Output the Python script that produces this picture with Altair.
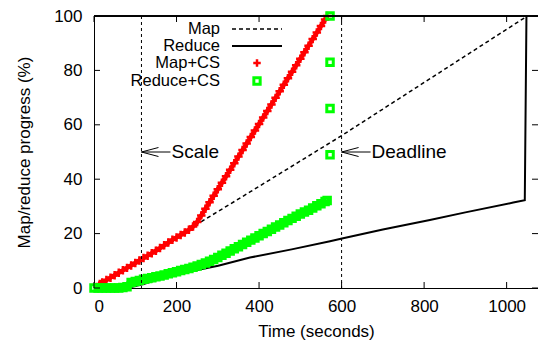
import altair as alt
import pandas as pd

FONT = "Liberation Sans"

# ---------------- data ----------------
map_t = [0, 14, 115, 192, 232, 378, 600, 1050]
map_p = [0, 1.2, 10.0, 17.3, 21.8, 35.3, 56.0, 100]

reduce_t = [0, 80, 120, 150, 200, 250, 301, 378, 479, 572, 601, 700, 814, 900, 1016, 1044, 1048]
reduce_p = [0, 0, 1.5, 2.8, 4.8, 6.6, 8.2, 11.2, 14.2, 17.2, 18.2, 21.5, 25.0, 27.8, 31.4, 32.3, 100]

mapcs_t = [14, 20, 30, 40, 50, 60, 70, 80, 90, 100, 110, 120, 130, 140, 150, 160, 170, 180,
           190, 200, 210, 220, 230, 240, 250, 260, 270, 280, 290, 300, 310, 320, 330, 340,
           350, 360, 370, 380, 390, 400, 410, 420, 430, 440, 450, 460, 470, 480, 490, 500,
           510, 520, 530, 540, 550, 560, 565]
mapcs_p = [1.5, 2.0, 2.9, 3.8, 4.7, 5.6, 6.5, 7.4, 8.3, 9.2, 10.1, 11.0, 11.9, 12.8, 13.7,
           14.7, 15.7, 16.7, 17.7, 18.6, 19.5, 20.4, 21.4, 22.6, 24.3, 26.7, 29.1, 31.5,
           33.9, 36.3, 38.7, 41.1, 43.5, 45.9, 48.3, 50.7, 53.1, 55.5, 57.9, 60.3, 62.7,
           65.1, 67.5, 69.9, 72.3, 74.7, 77.1, 79.5, 81.9, 84.3, 86.7, 89.1, 91.5, 93.9,
           96.3, 98.7, 100]

redcs_t = [0, 10, 20, 30, 40, 50, 60, 70, 80, 90, 100, 110, 120, 130, 140, 150, 160, 170,
           180, 190, 200, 210, 220, 230, 240, 250, 260, 270, 280, 290, 300, 310, 320, 330,
           340, 350, 360, 370, 380, 390, 400, 410, 420, 430, 440, 450, 460, 470, 480, 490,
           500, 510, 520, 530, 540, 550, 560, 565, 572, 572, 572, 572]
redcs_p = [0, 0, 0, 0, 0, 0, 0, 0.2, 0.5, 2.0, 2.4, 2.8, 3.2, 3.5, 3.8, 4.1, 4.4, 4.8,
           5.2, 5.6, 6.0, 6.4, 6.8, 7.2, 7.6, 8.1, 8.6, 9.2, 9.8, 10.5, 11.2, 12.0, 12.8,
           13.6, 14.4, 15.2, 16.0, 16.8, 17.6, 18.4, 19.2, 20.0, 20.8, 21.6, 22.4, 23.2,
           24.0, 24.8, 25.6, 26.4, 27.2, 27.9, 28.6, 29.4, 30.2, 31.0, 31.8, 32.2, 49, 66,
           83, 100]

event_t = [115, 600]
event_labels = ["Scale", "Deadline"]
event_p = [50, 50]

x_ticks = [0, 200, 400, 600, 800, 1000]
y_ticks = [0, 20, 40, 60, 80, 100]
legend_labels = ["Map", "Reduce", "Map+CS", "Reduce+CS"]

# ---------------- chart ----------------
W, H = 444, 272
xs = alt.Scale(domain=[0, 1076], nice=False, zero=False, padding=0)
ys = alt.Scale(domain=[0, 100], nice=False, padding=0)

map_df = pd.DataFrame({"t": map_t, "p": map_p})
red_df = pd.DataFrame({"t": reduce_t, "p": reduce_p})
mapcs_df = pd.DataFrame({"t": mapcs_t, "p": mapcs_p})
redcs_df = pd.DataFrame({"t": redcs_t, "p": redcs_p})
ev_df = pd.DataFrame({"t": event_t, "p": event_p, "label": event_labels})
xt_df = pd.DataFrame({"t": x_ticks})
yt_df = pd.DataFrame({"p": y_ticks})

x_axis = alt.Axis(values=x_ticks, format="d", ticks=False, grid=False, domain=True,
                  domainColor="black", domainWidth=1, labelFont=FONT, labelFontSize=17,
                  labelColor="black", labelPadding=10, title="Time (seconds)", titleFont=FONT,
                  titleFontSize=17, titleFontWeight="normal", titleColor="black",
                  titleBaseline="alphabetic", titleY=48)
y_axis = alt.Axis(values=y_ticks, format="d", ticks=False, grid=False, domain=True,
                  domainColor="black", domainWidth=1, labelFont=FONT, labelFontSize=17,
                  labelColor="black", labelPadding=12, title="Map/reduce progress (%)",
                  titleFont=FONT, titleFontSize=17, titleFontWeight="normal",
                  titleColor="black", titlePadding=20)

X = alt.X("t:Q", scale=xs, axis=x_axis)
Y = alt.Y("p:Q", scale=ys, axis=y_axis)

map_line = alt.Chart(map_df).mark_line(color="black", strokeWidth=1.5, strokeDash=[4, 3]).encode(x=X, y=Y)
reduce_line = alt.Chart(red_df).mark_line(color="black", strokeWidth=2).encode(x=X, y=Y)

PLUS = "M-1,0L1,0M0,-1L0,1"
mapcs_band = alt.Chart(mapcs_df).mark_line(color="#ff0000", strokeWidth=4.5).encode(x=X, y=Y)
mapcs_pts = alt.Chart(mapcs_df).mark_point(shape=PLUS, size=72, filled=False, color="#ff0000",
                                           strokeWidth=2.5, opacity=1).encode(x=X, y=Y)
redcs_band = alt.Chart(redcs_df).transform_filter("datum.t < 570").mark_line(
    color="#00ff00", strokeWidth=8).encode(x=X, y=Y)
redcs_pts = alt.Chart(redcs_df).mark_point(shape="square", size=42, filled=False, color="#00ff00",
                                           strokeWidth=3, opacity=1).encode(x=X, y=Y)

ev_lines = alt.Chart(ev_df).mark_rule(color="black", strokeWidth=1, strokeDash=[3, 3]).encode(
    x=X, y=alt.value(0), y2=alt.value(H))
ARROW = "M0,0L17,-4.5M0,0L17,4.5M0,0L29,0"
ev_arrows = alt.Chart(ev_df).mark_point(shape=ARROW, size=4, filled=False, color="black",
                                        strokeWidth=1, opacity=1).encode(x=X, y=Y)
ev_text = alt.Chart(ev_df).mark_text(align="left", baseline="middle", dx=30, font=FONT,
                                     fontSize=19, color="black").encode(x=X, y=Y, text="label:N")

# border and inward ticks (gnuplot style)
top_border = alt.Chart(xt_df).mark_rule(color="black", strokeWidth=1).encode(
    x=alt.value(0), x2=alt.value(W), y=alt.value(0))
tb = alt.Chart(xt_df).mark_rule(color="black", strokeWidth=1).encode(
    x=X, y=alt.value(H), y2=alt.value(H - 6))
tt = alt.Chart(xt_df).mark_rule(color="black", strokeWidth=1).encode(
    x=X, y=alt.value(0), y2=alt.value(6))
tl = alt.Chart(yt_df).mark_rule(color="black", strokeWidth=1).encode(
    y=Y, x=alt.value(0), x2=alt.value(6))
tr = alt.Chart(yt_df).mark_rule(color="black", strokeWidth=1).encode(
    y=Y, x=alt.value(W - 6), x2=alt.value(W))

# legend (gnuplot style: label right-aligned, sample to its right)
leg_rows = [13, 30, 47, 65]
one = pd.DataFrame({"k": [0]})
legend_layers = []
for lab, yy in zip(legend_labels, leg_rows):
    legend_layers.append(
        alt.Chart(pd.DataFrame({"label": [lab]})).mark_text(
            align="right", baseline="middle", font=FONT, fontSize=16.5, color="black").encode(
            x=alt.value(126), y=alt.value(yy), text="label:N"))
legend_layers.append(alt.Chart(one).mark_rule(color="black", strokeWidth=1.5, strokeDash=[4, 3]).encode(
    x=alt.value(138), x2=alt.value(188), y=alt.value(leg_rows[0])))
legend_layers.append(alt.Chart(one).mark_rule(color="black", strokeWidth=2).encode(
    x=alt.value(138), x2=alt.value(188), y=alt.value(leg_rows[1])))
legend_layers.append(alt.Chart(one).mark_point(shape=PLUS, size=56, filled=False, color="#ff0000",
                                               strokeWidth=2.5, opacity=1).encode(
    x=alt.value(163), y=alt.value(leg_rows[2])))
legend_layers.append(alt.Chart(one).mark_point(shape="square", size=40, filled=False, color="#00ff00",
                                               strokeWidth=3, opacity=1).encode(
    x=alt.value(163), y=alt.value(leg_rows[3])))

chart = alt.layer(
    map_line, reduce_line, mapcs_band, mapcs_pts, redcs_band, redcs_pts,
    ev_lines, ev_arrows, ev_text,
    top_border, tb, tt, tl, tr, *legend_layers
).properties(
    width=W, height=H,
    autosize=alt.AutoSizeParams(type="none"),
    padding={"left": 86, "top": 8, "right": 0, "bottom": 52},
    background="white",
).configure_view(stroke=None)

chart.save("out.html", embed_options={"renderer": "svg", "actions": False})
